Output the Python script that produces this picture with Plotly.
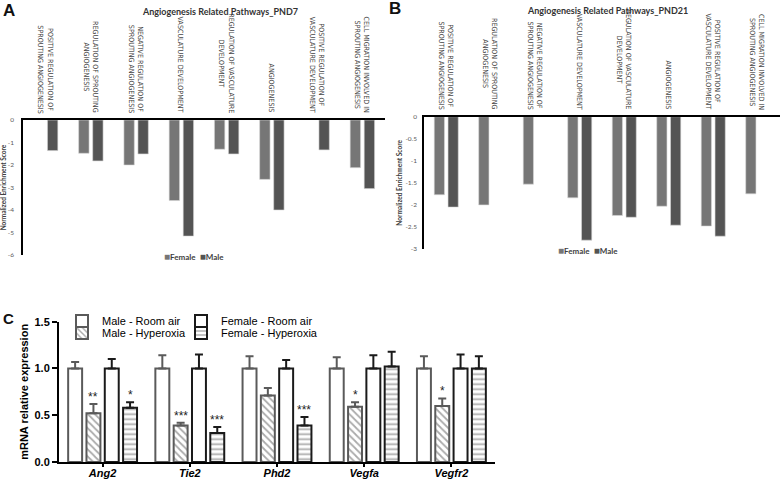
import plotly.graph_objects as go

W, H = 781, 479

# ---------------- data ----------------
pathways = [
    "POSITIVE REGULATION OF<br>SPROUTING ANGIOGENESIS",
    "REGULATION OF SPROUTING<br>ANGIOGENESIS",
    "NEGATIVE REGULATION OF<br>SPROUTING ANGIOGENESIS",
    "VASCULATURE DEVELOPMENT",
    "REGULATION OF VASCULATURE<br>DEVELOPMENT",
    "ANGIOGENESIS",
    "POSITIVE REGULATION OF<br>VASCULATURE DEVELOPMENT",
    "CELL MIGRATION INVOLVED IN<br>SPROUTING ANGIOGENESIS",
]
pnd7_female = [None, -1.48, -2.00, -3.58, -1.30, -2.64, None, -2.12]
pnd7_male = [-1.36, -1.82, -1.51, -5.16, -1.51, -4.00, -1.33, -3.05]
pnd21_female = [-1.77, -2.00, -1.53, -1.84, -2.24, -2.03, -2.48, -1.75]
pnd21_male = [-2.05, None, None, -2.80, -2.28, -2.46, -2.71, None]

pnd7_ticks = [0, -1, -2, -3, -4, -5, -6]
pnd7_ticktext = ["0", "-1", "-2", "-3", "-4", "-5", "-6"]
pnd21_ticks = [0, -0.5, -1, -1.5, -2, -2.5, -3]
pnd21_ticktext = ["0", "-0.5", "-1", "-1.5", "-2", "-2.5", "-3"]

genes = ["Ang2", "Tie2", "Phd2", "Vegfa", "Vegfr2"]
male_ra = [1.0, 1.0, 1.0, 1.0, 1.0]
male_ra_err = [0.07, 0.14, 0.13, 0.12, 0.13]
male_hyp = [0.52, 0.39, 0.71, 0.59, 0.60]
male_hyp_err = [0.10, 0.03, 0.08, 0.05, 0.08]
female_ra = [1.0, 1.0, 1.0, 1.0, 1.0]
female_ra_err = [0.10, 0.15, 0.09, 0.14, 0.15]
female_hyp = [0.58, 0.31, 0.39, 1.02, 1.0]
female_hyp_err = [0.06, 0.065, 0.09, 0.16, 0.13]
male_hyp_sig = ["**", "***", "", "*", "*"]
female_hyp_sig = ["*", "***", "***", "", ""]

# ---------------- helpers ----------------
def px_x(p):
    return p / W

def px_y(p):
    return 1 - p / H

fig = go.Figure()

FEM_C = "#767676"
MALE_C = "#545454"
xA = list(range(len(pathways)))

for vals, name, col, off, xr, yr in [
    (pnd7_female, "Female", FEM_C, -0.27, "x", "y"),
    (pnd7_male, "Male", MALE_C, 0.04, "x", "y"),
    (pnd21_female, "Female", FEM_C, -0.27, "x2", "y2"),
    (pnd21_male, "Male", MALE_C, 0.04, "x2", "y2"),
]:
    fig.add_trace(go.Bar(x=xA, y=vals, name=name, marker_color=col,
                         marker_line=dict(color="#d8d8d8", width=0.6),
                         width=0.23, offset=off, xaxis=xr, yaxis=yr, showlegend=False))

# Panel C
xC = list(range(len(genes)))
BW = 0.16
offsC = [-0.395, -0.185, 0.025, 0.235]
GRAY = "#5a5a5a"
BLACK = "#1a1a1a"
specC = [
    ("Male - Room air", male_ra, male_ra_err, "", GRAY, "legend", 62, 321),
    ("Male - Hyperoxia", male_hyp, male_hyp_err, "\\", GRAY, "legend2", 62, 333),
    ("Female - Room air", female_ra, female_ra_err, "", BLACK, "legend3", 181, 321),
    ("Female - Hyperoxia", female_hyp, female_hyp_err, "-", BLACK, "legend4", 181, 333),
]
legends = {}
for (name, vals, errs, shape, lc, lg, lx, ly), off in zip(specC, offsC):
    fig.add_trace(go.Bar(
        x=xC, y=vals, name=name, width=BW, offset=off,
        marker=dict(color="white", line=dict(color=lc, width=2),
                    pattern=dict(shape=shape, fgcolor="#555555", bgcolor="white",
                                 size=5, solidity=0.35) if shape else None),
        error_y=dict(type="data", array=errs, arrayminus=[0] * len(errs), symmetric=False,
                     color=lc, thickness=2, width=4),
        xaxis="x3", yaxis="y3", legend=lg, showlegend=True))
    legends[lg] = dict(x=px_x(lx), y=px_y(ly), xanchor="left", yanchor="middle",
                       font=dict(family="Liberation Sans", size=11, color="black"),
                       bgcolor="rgba(0,0,0,0)", borderwidth=0)

annotations = []
# significance stars
for vals, errs, sig, off in [(male_hyp, male_hyp_err, male_hyp_sig, offsC[1]),
                             (female_hyp, female_hyp_err, female_hyp_sig, offsC[3])]:
    for i, s in enumerate(sig):
        if s:
            annotations.append(dict(x=xC[i] + off + BW / 2, y=vals[i] + errs[i], xref="x3", yref="y3",
                                    text=s, showarrow=False, xanchor="center", yanchor="bottom", yshift=-2,
                                    font=dict(family="Liberation Sans", size=12, color="#222")))

# rotated pathway labels
for xr, yr in [("x", "y"), ("x2", "y2")]:
    for i, lab in enumerate(pathways):
        annotations.append(dict(x=xA[i], y=0, xref=xr, yref=yr, text=lab, textangle=90,
                                showarrow=False, xanchor="center", yanchor="bottom", yshift=5,
                                align="center",
                                font=dict(family="Liberation Sans Narrow, DejaVu Sans Condensed, sans-serif",
                                          size=7.1, color="#444444")))

legtxt = ("<span style='color:%s;font-size:10px'>■</span><b>Female</b>&nbsp;&nbsp;"
          "<span style='color:%s;font-size:10px'>■</span><b>Male</b>") % (FEM_C, MALE_C)

def paper_text(x, y, text, font, xanchor="center"):
    return dict(x=px_x(x), y=px_y(y), xref="paper", yref="paper", text=text,
                xanchor=xanchor, yanchor="middle", showarrow=False, font=font)

title_font = dict(family="Lato, sans-serif", size=9, color="#333")
annotations += [
    paper_text(220, 11, "<b>Angiogenesis Related Pathways_PND7</b>", title_font),
    paper_text(607, 10, "<b>Angiogenesis Related Pathways_PND21</b>", title_font),
    paper_text(1, 10, "<b>A</b>", dict(family="Liberation Sans", size=17, color="#111"), "left"),
    paper_text(387, 9, "<b>B</b>", dict(family="Liberation Sans", size=17, color="#111"), "left"),
    paper_text(1, 318, "<b>C</b>", dict(family="Liberation Sans", size=15, color="#111"), "left"),
    paper_text(194, 256, legtxt, dict(family="Lato, sans-serif", size=8, color="#404040")),
    paper_text(588, 250, legtxt, dict(family="Lato, sans-serif", size=8, color="#404040")),
]

tickfontAB = dict(family="Lato, sans-serif", size=6.5, color="#595959")
titlefontAB = dict(family="Lato, sans-serif", size=6.5, color="#404040", weight="bold")

fig.update_layout(
    width=W, height=H, margin=dict(l=0, r=0, t=0, b=0, autoexpand=False),
    paper_bgcolor="white", plot_bgcolor="rgba(0,0,0,0)",
    barmode="overlay", showlegend=True,
    annotations=annotations,
    xaxis=dict(domain=[px_x(23), px_x(385)], range=[-0.5, 7.5], side="top", anchor="y",
               showline=True, linecolor="black", linewidth=1.5, showticklabels=False,
               ticks="", showgrid=False, zeroline=False),
    yaxis=dict(domain=[px_y(255), px_y(120)], range=[-6, 0], anchor="x",
               showline=True, linecolor="black", linewidth=1.5, ticks="",
               tickvals=pnd7_ticks, ticktext=pnd7_ticktext, tickfont=tickfontAB,
               showgrid=False, zeroline=False, ticklabelstandoff=6,
               title=dict(text="Normalized Enrichment Score", font=titlefontAB, standoff=2)),
    xaxis2=dict(domain=[px_x(424), px_x(780)], range=[-0.5, 7.5], side="top", anchor="y2",
                showline=True, linecolor="black", linewidth=1.5, showticklabels=False,
                ticks="", showgrid=False, zeroline=False),
    yaxis2=dict(domain=[px_y(249), px_y(116.7)], range=[-3, 0], anchor="x2",
                showline=True, linecolor="black", linewidth=1.5, ticks="",
                tickvals=pnd21_ticks, ticktext=pnd21_ticktext, tickfont=tickfontAB,
                showgrid=False, zeroline=False, ticklabelstandoff=4,
                title=dict(text="Normalized Enrichment Score", font=titlefontAB, standoff=2)),
    xaxis3=dict(domain=[px_x(59), px_x(495)], range=[-0.5, 4.5], anchor="y3",
                tickvals=xC, ticktext=genes,
                tickfont=dict(family="Liberation Sans", size=11, color="black", weight="bold", style="italic"),
                showline=True, linecolor="black", linewidth=2, ticks="outside", ticklen=3,
                tickwidth=1.5, tickcolor="black", showgrid=False, zeroline=False,
                ticklabelstandoff=-3),
    yaxis3=dict(domain=[px_y(462), px_y(321.7)], range=[0, 1.5], anchor="x3",
                tickvals=[0, 0.5, 1.0, 1.5], tickformat=".1f",
                tickfont=dict(family="Liberation Sans", size=11, color="black", weight="bold"),
                showline=True, linecolor="black", linewidth=2, ticks="outside", ticklen=5,
                tickwidth=2, tickcolor="black", showgrid=False, zeroline=False,
                title=dict(text="mRNA relative expression", standoff=4,
                           font=dict(family="Liberation Sans", size=11, color="black", weight="bold"))),
    **legends,
)

fig.write_html("out.html", config={"displayModeBar": False},
               post_script="document.body.style.margin='0';document.body.style.overflow='hidden';")
